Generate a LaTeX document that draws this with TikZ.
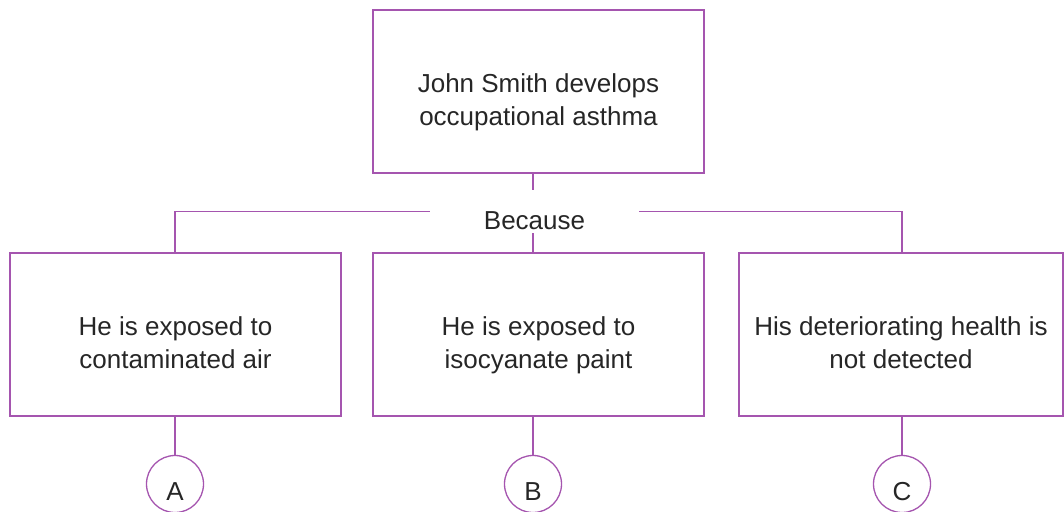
\documentclass[tikz,border=0pt]{standalone}
\usepackage{fontspec}
\setmainfont{Liberation Sans}
\usepackage{tikz}

\definecolor{treeline}{RGB}{165,85,175}
\definecolor{treetext}{RGB}{38,38,38}

\tikzset{
  causebox/.style={draw=treeline, line width=1.3pt, minimum width=331pt, minimum height=163pt, align=center, text height=68pt, text depth=0pt, text=treetext, font=\fontsize{26}{33}\selectfont},
  linkcircle/.style={draw=treeline, line width=1.3pt, circle, minimum size=57pt, inner sep=0pt, text height=32pt, text depth=0pt, text=treetext, font=\fontsize{26}{33}\selectfont},
  treelink/.style={draw=treeline, line width=1.3pt}
}

\begin{document}
\begin{tikzpicture}[x=1pt, y=-1pt]
\useasboundingbox (0, 0) rectangle (1064, 511);
\node[causebox] (top) at (538.5, 91.5) {John Smith develops\\occupational asthma};
\node[text=treetext, font=\fontsize{26}{33}\selectfont, inner sep=0pt, minimum width=209pt, minimum height=43pt, text height=35pt, text depth=0pt] (because) at (534.5, 211.5) {Because};
\node[causebox] (air) at (175.5, 334.5) {He is exposed to\\contaminated air};
\node[causebox] (paint) at (538.5, 334.5) {He is exposed to\\isocyanate paint};
\node[causebox, minimum width=324pt] (health) at (901, 334.5) {His deteriorating health is\\not detected};
\node[linkcircle] (a) at (175, 484) {A};
\node[linkcircle] (b) at (533, 484) {B};
\node[linkcircle] (c) at (902, 484) {C};
\draw[treelink] (top.south -| b) -- (because.north -| b);
\draw[treelink] (because.south -| b) -- (paint.north -| b);
\draw[treelink] (because.west) -| (air.north -| a);
\draw[treelink] (because.east) -| (health.north -| c);
\draw[treelink] (air.south -| a) -- (a);
\draw[treelink] (paint.south -| b) -- (b);
\draw[treelink] (health.south -| c) -- (c);
\end{tikzpicture}
\end{document}
